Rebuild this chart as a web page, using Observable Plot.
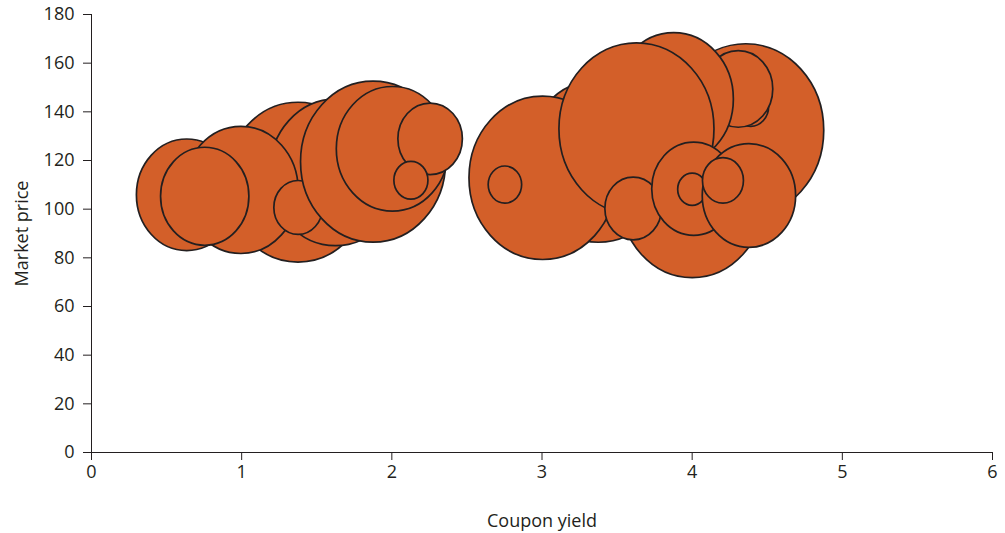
<!DOCTYPE html>
<html>
<head>
<meta charset="utf-8">
<script src="https://cdn.jsdelivr.net/npm/d3@7"></script>
<script src="https://cdn.jsdelivr.net/npm/@observablehq/plot@0.6"></script>
<style>
  html, body { margin: 0; padding: 0; background: #ffffff; }
  #chart { width: 1005px; height: 533px; }
</style>
</head>
<body>
<div id="chart"></div>
<script>
// Bonds, listed in drawing order (back to front)
const couponYield = [0.634, 1.375, 1.625, 0.995, 0.754, 1.376, 1.875, 2.004, 2.255, 2.127,
                     3.375, 3.004, 2.753, 4.0, 4.357, 4.39, 4.307, 3.877, 3.629, 3.607, 4.01, 4.0, 4.378, 4.205];
const marketPrice = [105.9, 111.1, 115.1, 107.9, 105.3, 100.7, 119.5, 124.8, 128.9, 111.9,
                     119.7, 112.9, 110.1, 104.7, 132.4, 142.2, 149.4, 145.3, 133.0, 100.3, 108.4, 108.2, 105.6, 111.8];
const amount      = [25.3, 51.8, 43.6, 32.8, 19.5, 5.9, 52.6, 31.5, 10.4, 2.9,
                     53.3, 54.2, 2.8, 51.8, 60.8, 3.2, 11.9, 35.6, 60.1, 8.0, 17.6, 2.1, 21.8, 4.2];
const xTicks = [0, 1, 2, 3, 4, 5, 6];
const yTicks = [0, 20, 40, 60, 80, 100, 120, 140, 160, 180];

const bonds = couponYield.map((c, i) => ({coupon: c, price: marketPrice[i], amount: amount[i]}));

const ink = "#231F20";
const orange = "#D35F29";
const aspect = 1.11; // vertical stretch of the bubbles

const K = 0.5522847498;
const ellipseSymbol = {
  draw(context, size) {
    const rx = Math.sqrt(size / Math.PI);
    const ry = rx * aspect;
    const ox = rx * K, oy = ry * K;
    context.moveTo(rx, 0);
    context.bezierCurveTo(rx, oy, ox, ry, 0, ry);
    context.bezierCurveTo(-ox, ry, -rx, oy, -rx, 0);
    context.bezierCurveTo(-rx, -oy, -ox, -ry, 0, -ry);
    context.bezierCurveTo(ox, -ry, rx, -oy, rx, 0);
    context.closePath();
  }
};

const chart = Plot.plot({
  width: 1005,
  height: 533,
  marginLeft: 91,
  marginRight: 13,
  marginTop: 14,
  marginBottom: 81,
  x: {domain: [0, 6]},
  y: {domain: [0, 180]},
  r: {type: "sqrt", domain: [0, 100], range: [0, 100]},
  style: {fontFamily: "'Open Sans', Lato, sans-serif", fontSize: "18px", color: ink, background: "#ffffff"},
  marks: [
    Plot.ruleX([0], {stroke: ink, strokeWidth: 1}),
    Plot.ruleY([0], {stroke: ink, strokeWidth: 1}),
    Plot.axisX({ticks: xTicks, tickSize: 8, tickPadding: 5, tickFormat: d => String(d), label: null, stroke: ink, fill: ink, fontSize: 18}),
    Plot.axisY({ticks: yTicks, tickSize: 8, tickPadding: 9, tickFormat: d => String(d), label: null, stroke: ink, fill: ink, fontSize: 18}),
    Plot.dot(bonds, {
      x: "coupon", y: "price", r: "amount",
      symbol: ellipseSymbol, sort: null,
      fill: orange, fillOpacity: 1, stroke: ink, strokeWidth: 1.7
    }),
    Plot.text(["Coupon yield"], {frameAnchor: "bottom", dy: 69, lineAnchor: "middle", textAnchor: "middle", text: d => d, fill: ink, fontSize: 18}),
    Plot.text(["Market price"], {frameAnchor: "left", dx: -69, rotate: -90, lineAnchor: "middle", textAnchor: "middle", text: d => d, fill: ink, fontSize: 18})
  ]
});
document.getElementById("chart").appendChild(chart);
</script>
</body>
</html>
